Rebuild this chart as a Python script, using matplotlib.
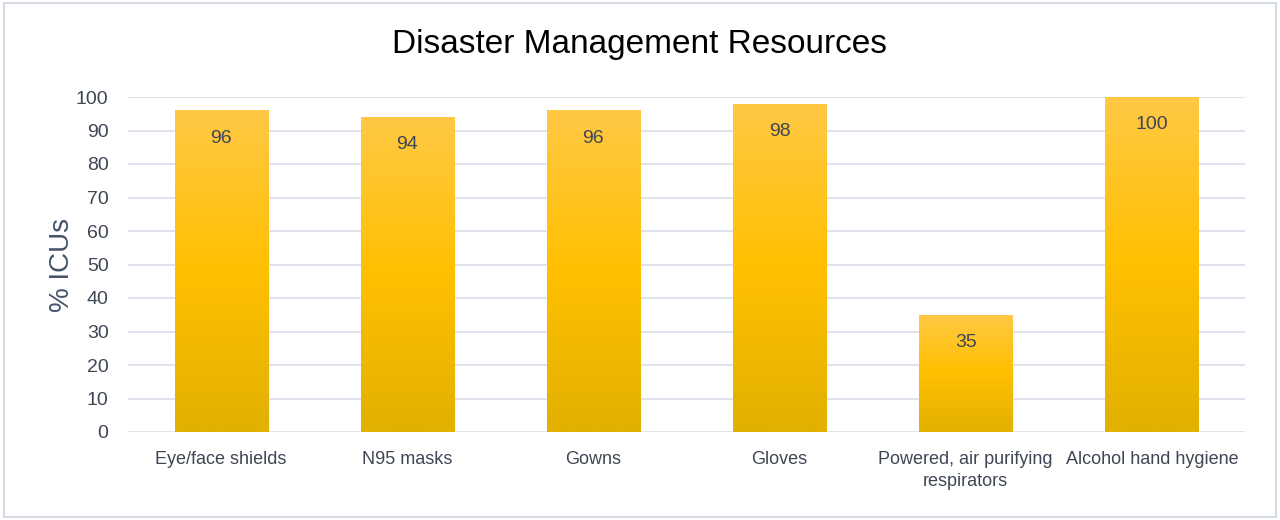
import matplotlib
matplotlib.use("Agg")
import matplotlib.pyplot as plt
import numpy as np
from matplotlib import font_manager
from matplotlib.colors import LinearSegmentedColormap
from matplotlib.patches import Rectangle

categories = ["Eye/face shields", "N95 masks", "Gowns", "Gloves",
              "Powered, air purifying\nrespirators", "Alcohol hand hygiene"]
values = [96, 94, 96, 98, 35, 100]
yticks = [0, 10, 20, 30, 40, 50, 60, 70, 80, 90, 100]
title = "Disaster Management Resources"
ylabel = "% ICUs"

names = {f.name for f in font_manager.fontManager.ttflist}
fam = "Liberation Sans Narrow" if "Liberation Sans Narrow" in names else "Liberation Sans"
plt.rcParams['font.family'] = [fam, 'DejaVu Sans']

txt = "#3F4654"
fig = plt.figure(figsize=(12.8, 5.2), dpi=100)
fig.patches.append(Rectangle((0.003, 0.005), 0.994, 0.99, transform=fig.transFigure,
                             fill=False, edgecolor="#D6DCE4", linewidth=1.5))
ax = fig.add_axes([128/1280, 1 - 432/520, (1245-128)/1280, (432-97)/520])

x = np.arange(len(categories))
bars = ax.bar(x, values, width=0.5, color="none", edgecolor="none", zorder=2)
cmap = LinearSegmentedColormap.from_list("g", ["#FFC845", "#FFC000", "#E2B000"])
grad = np.linspace(0, 1, 256).reshape(-1, 1)
for b in bars:
    x0, w, h = b.get_x(), b.get_width(), b.get_height()
    im = ax.imshow(grad, cmap=cmap, aspect="auto", extent=[x0, x0 + w, 0, h],
                   origin="upper", zorder=2)
    im.set_clip_path(b)

for xi, v in zip(x, values):
    ax.annotate(str(v), (xi, v), xytext=(0, -20), textcoords="offset points",
                ha="center", va="center", fontsize=14, color=txt, zorder=3)

ax.set_xlim(-0.5, len(categories) - 0.5)
ax.set_ylim(0, 100)
ax.set_yticks(yticks)
ax.set_xticks(x)
ax.set_xticklabels(categories, fontsize=13, color=txt, linespacing=1.35)
ax.tick_params(axis="y", labelsize=14, labelcolor=txt, length=0, pad=14)
ax.tick_params(axis="x", length=0, pad=14)
ax.yaxis.grid(True, color="#DDE1EA", linewidth=1.3, zorder=0)
ax.set_axisbelow(True)
for s in ax.spines.values():
    s.set_visible(False)
ax.set_ylabel(ylabel, fontsize=20, color="#44546A", labelpad=1)
fig.text(0.5, 1 - 44/520, title, ha="center", va="center", fontsize=24, color="black")
fig.savefig("out.png", dpi=100)
